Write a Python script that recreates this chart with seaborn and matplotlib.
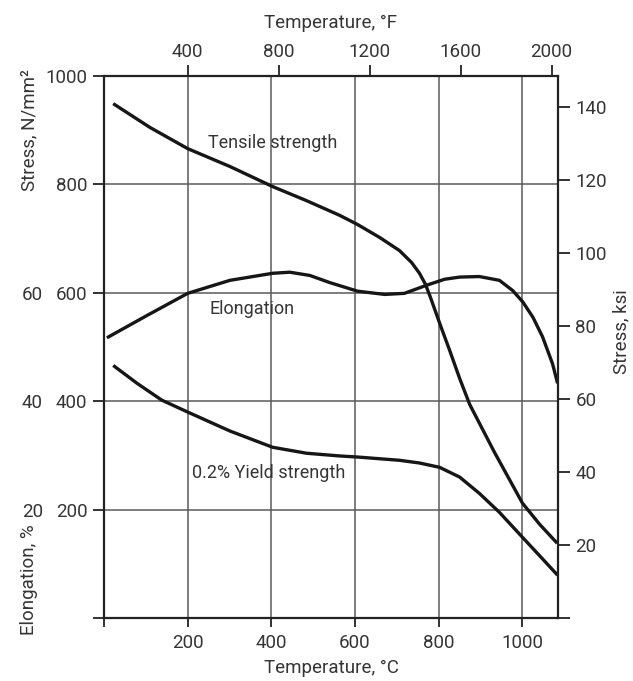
import matplotlib
matplotlib.use("Agg")
import matplotlib.pyplot as plt
import seaborn as sns

# curves (temperature in C, stress in N/mm2, elongation in %)
temp_tensile = [22, 110, 200, 301, 403, 484, 563, 606, 659, 706, 735, 754, 768, 780, 792,
                804, 826, 850, 874, 933, 1000, 1041, 1083]
tensile = [949, 905, 866, 833, 796, 770, 743, 726, 702, 678, 656, 636, 616, 592, 566,
           540, 494, 442, 394, 306, 212, 173, 138]

temp_elong = [7, 100, 200, 301, 403, 444, 492, 539, 606, 671, 718, 771, 814, 850, 897,
              945, 977, 1001, 1025, 1048, 1072, 1084]
elong = [51.7, 55.7, 59.9, 62.3, 63.6, 63.8, 63.2, 61.9, 60.3, 59.7, 59.9, 61.4, 62.5, 62.9, 63.0,
         62.3, 60.4, 58.3, 55.5, 51.9, 46.9, 43.3]

temp_yield = [22, 79, 138, 200, 301, 403, 484, 563, 606, 706, 754, 802, 850, 897, 945, 1000, 1041, 1084]
yield_str = [466, 433, 402, 380, 345, 315, 304, 299, 297, 291, 286, 278, 260, 230, 195, 149, 115, 79]

c_ticks = [0, 200, 400, 600, 800, 1000]
f_ticks = [400, 800, 1200, 1600, 2000]
mpa_ticks = [0, 200, 400, 600, 800, 1000]
ksi_ticks = [0, 20, 40, 60, 80, 100, 120, 140]
elong_ticks = [20, 40, 60]

# scale factors as drawn on the chart
c_to_f = 1.84
ksi_to_mpa = 6.73

sns.set_style("white")
plt.rcParams['font.family'] = ['Roboto', 'DejaVu Sans']

txt = '#353535'
grid_c = '#5a5a5a'
line_c = '#161616'
fs = 13.5
lab_fs = 13.5
ann_fs = 13

fig = plt.figure(figsize=(6.33, 6.81), dpi=100)
ax = fig.add_axes([0.1643, 0.0925, 0.7172, 0.7959])

xmin, xmax = 0, 1085
ymin, ymax = 0, 1000

line_kw = dict(color=line_c, lw=2.4, solid_joinstyle='round', solid_capstyle='butt')
sns.lineplot(x=temp_tensile, y=tensile, ax=ax, **line_kw)
sns.lineplot(x=temp_elong, y=[e * 10 for e in elong], ax=ax, **line_kw)
sns.lineplot(x=temp_yield, y=yield_str, ax=ax, **line_kw)

ax.set_xlim(xmin, xmax)
ax.set_ylim(ymin, ymax)
ax.set_xticks(c_ticks)
ax.set_xticklabels(['' if t == 0 else str(t) for t in c_ticks])
ax.set_yticks(mpa_ticks)
ax.set_yticklabels(['' if t == 0 else str(t) for t in mpa_ticks])
ax.grid(True, color=grid_c, lw=1.1)
ax.set_axisbelow(True)
ax.tick_params(axis='x', bottom=True, length=6.5, width=1.3, pad=5, labelsize=fs, labelcolor=txt, color='#222222')
ax.tick_params(axis='y', left=True, length=8, width=1.3, pad=4, labelsize=fs, labelcolor=txt, color='#222222')
for s in ax.spines.values():
    s.set_color('#222222')
    s.set_linewidth(1.6)

ax.set_xlabel('Temperature, °C', fontsize=lab_fs, color=txt)
ax.xaxis.set_label_coords(0.502, -0.075)
ax.set_ylabel('Stress, N/mm²', fontsize=lab_fs, color=txt)
ax.yaxis.set_label_coords(-0.145, 0.9)

# right axis in ksi
ax_r = ax.twinx()
ax_r.set_ylim(ymin / ksi_to_mpa, ymax / ksi_to_mpa)
ax_r.set_yticks(ksi_ticks)
ax_r.set_yticklabels(['' if t == 0 else str(t) for t in ksi_ticks])
ax_r.tick_params(axis='y', right=True, length=8.5, width=1.3, pad=4, labelsize=fs, labelcolor=txt, color='#222222')
ax_r.set_ylabel('Stress, ksi', fontsize=lab_fs, color=txt)
ax_r.yaxis.set_label_coords(1.12, 0.528)
for s in ax_r.spines.values():
    s.set_visible(False)

# elongation scale, further left
ax_e = ax.twinx()
ax_e.set_ylim(ymin / 10, ymax / 10)
ax_e.yaxis.tick_left()
ax_e.yaxis.set_label_position('left')
ax_e.set_yticks(elong_ticks)
ax_e.tick_params(axis='y', left=True, right=False, length=0, pad=44, labelsize=fs, labelcolor=txt)
ax_e.set_ylabel('Elongation, %', fontsize=lab_fs, color=txt)
ax_e.yaxis.set_label_coords(-0.145, 0.07)
for s in ax_e.spines.values():
    s.set_visible(False)

# top axis in F
ax_t = ax.twiny()
ax_t.set_xlim(32 + xmin * c_to_f, 32 + xmax * c_to_f)
ax_t.set_xticks(f_ticks)
ax_t.tick_params(axis='x', top=True, length=8, width=1.3, pad=3, labelsize=fs, labelcolor=txt, color='#222222')
ax_t.set_xlabel('Temperature, °F', fontsize=lab_fs, color=txt)
ax_t.xaxis.set_label_coords(0.498, 1.089)
for s in ax_t.spines.values():
    s.set_visible(False)

ax.text(248, 877, 'Tensile strength', fontsize=ann_fs, color=txt, va='center', ha='left')
ax.text(251, 570, 'Elongation', fontsize=ann_fs, color=txt, va='center', ha='left')
ax.text(210, 267, '0.2% Yield strength', fontsize=ann_fs, color=txt, va='center', ha='left')

fig.savefig('out.png', dpi=100)
